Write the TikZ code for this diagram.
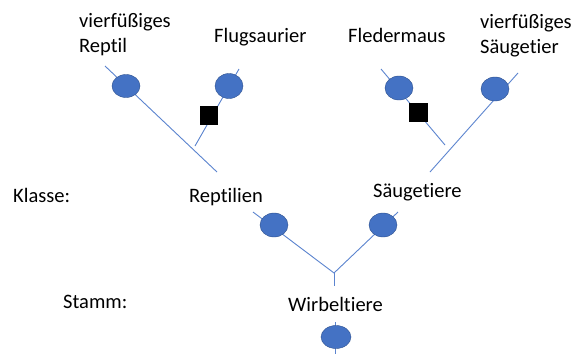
\documentclass[tikz,border=0pt]{standalone}
\usepackage{fontspec}
\setmainfont{Carlito}[Ligatures=NoCommon]
\usetikzlibrary{shapes.geometric}
\definecolor{blueFill}{HTML}{4472C4}
\definecolor{blueEdge}{HTML}{2F528F}
\definecolor{lineBlue}{HTML}{5B84CF}
\begin{document}
\begin{tikzpicture}[x=1pt,y=-1pt,
  lbl/.style={anchor=base west,inner sep=0pt,align=left,font=\fontsize{20.5}{25}\selectfont},
  branch/.style={draw=lineBlue,line width=0.9pt},
  dotnode/.style={ellipse,fill=blueFill,draw=blueEdge,line width=0.4pt,minimum width=28pt,minimum height=23pt,inner sep=0pt},
  marknode/.style={rectangle,fill=black,minimum width=18.5pt,minimum height=19pt,inner sep=0pt}]
\useasboundingbox[fill=white] (0,0) rectangle (584,354);

% texts
\node[lbl] (tRep) at (79,52) {vierfüßiges\\Reptil};
\node[lbl] (tFlug) at (214,42) {Flugsaurier};
\node[lbl] (tFled) at (348,42) {Fledermaus};
\node[lbl] (tSaeu) at (480,53) {vierfüßiges\\Säugetier};
\node[lbl] (tKlasse) at (13,202) {Klasse:};
\node[lbl] (tReptilien) at (189,202) {Reptilien};
\node[lbl] (tSaeugetiere) at (373,197) {Säugetiere};
\node[lbl] (tStamm) at (63,308) {Stamm:};
\node[lbl] (tWirbel) at (288,311) {Wirbeltiere};

% branch end points
\coordinate (a1) at (105,66);  \coordinate (a2) at (217,172);
\coordinate (b1) at (239,69);  \coordinate (b2) at (195,146);
\coordinate (c1) at (381,69);  \coordinate (c2) at (445,145);
\coordinate (d1) at (518,73);  \coordinate (d2) at (430,172);
\coordinate (e1) at (253,212); \coordinate (e2) at (398,212);
\coordinate (fork) at (334,273); \coordinate (stem) at (334,286);
\coordinate (g1) at (335,322); \coordinate (g2) at (335,354);

\draw[branch] (a1) -- (a2);
\draw[branch] (b1) -- (b2);
\draw[branch] (c1) -- (c2);
\draw[branch] (d1) -- (d2);
\draw[branch] (e1) -- (fork);
\draw[branch] (e2) -- (fork);
\draw[branch] (fork) -- (stem);
\draw[branch] (g1) -- (g2);

% ellipses and squares
\node[dotnode] (pRep) at (126,86) {};
\node[dotnode,minimum height=25pt] (pFlug) at (229,86) {};
\node[marknode] (sFlug) at (209,115.5) {};
\node[dotnode,minimum height=24pt] (pFled) at (399,88) {};
\node[marknode] (sFled) at (418.5,112.5) {};
\node[dotnode,minimum height=24pt] (pSaeu) at (495,89) {};
\node[dotnode,minimum height=24pt] (pReptilien) at (274,225) {};
\node[dotnode,minimum height=24pt] (pSaeugetiere) at (383,225) {};
\node[dotnode,minimum width=30pt] (pWirbel) at (336,337) {};
\end{tikzpicture}
\end{document}
